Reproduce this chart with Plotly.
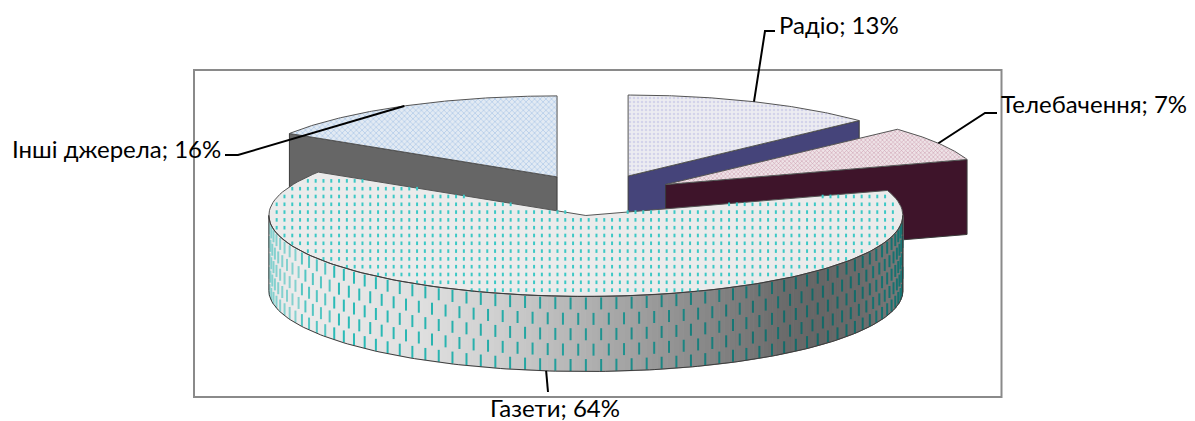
import numpy as np
import plotly.graph_objects as go

# Shares, clockwise from twelve o'clock
labels = ["Радіо", "Телебачення", "Газети", "Інші джерела"]
shares = [13, 7, 64, 16]

# Per-slice styling
top_bg = ["#ececf1", "#eee3e7", "#ebebeb", "#e2eaf3"]
top_fg = ["#d3d3ea", "#c896aa", "#3cc8c5", "#a9c6e8"]
top_shape = [".", "x", "", "x"]
top_size = [4, 3, 8, 4]
wall_color = ["#45447a", "#3e142a", "#808080", "#666666"]

# Pie projection in page pixels
CX, CY = 596.0, 195.0
RX, RY = 317.0, 81.0
DEPTH = 75.0
EXPLODE = 0.255

# Label text, anchor and leader elbow
label_x = [778, 1000, 555, 222]
label_y = [24, 103, 407, 148]
label_anchor = ["left", "left", "center", "right"]
elbow_x = [[765, 775], [985, 997], [548, 548], [238, 225]]
elbow_y = [[31, 31], [113, 113], [392, 392], [155, 155]]

FONT = "Lato"
FONT_SIZE = 24


def rim(cx, cy, deg):
    t = np.radians(deg)
    return cx + RX * np.sin(t), cy - RY * np.cos(t)


starts = np.cumsum([0] + shares[:-1]) * 3.6
ends = np.cumsum(shares) * 3.6
mids = (starts + ends) / 2
apex_x = CX + EXPLODE * RX * np.sin(np.radians(mids))
apex_y = CY - EXPLODE * RY * np.cos(np.radians(mids))

fig = go.Figure()


def polygon(x, y, color, line="#555555", width=1, pattern=None):
    fig.add_trace(go.Scatter(
        x=list(x), y=list(y), mode="lines", fill="toself", fillcolor=color,
        fillpattern=pattern, line=dict(color=line, width=width),
        hoverinfo="skip", showlegend=False))


def radial_wall(i, deg):
    ex, ey = rim(apex_x[i], apex_y[i], deg)
    polygon([apex_x[i], ex, ex, apex_x[i], apex_x[i]],
            [apex_y[i], ey, ey + DEPTH, apex_y[i] + DEPTH, apex_y[i]],
            wall_color[i], line="#3a3a3a")


def top_face(i):
    deg = np.linspace(starts[i], ends[i], 120)
    ax, ay = apex_x[i], apex_y[i]
    rx, ry = rim(ax, ay, deg)
    pattern = None
    if top_shape[i]:
        pattern = dict(shape=top_shape[i], bgcolor=top_bg[i], fgcolor=top_fg[i],
                       size=top_size[i], solidity=0.3, fillmode="replace")
    polygon(np.r_[ax, rx, ax], np.r_[ay, ry, ay], top_bg[i], pattern=pattern)


def grey_at(x):
    return np.interp(x, [270, 300, 420, 500, 590, 700, 780, 820, 860, 905],
                     [232, 236, 224, 207, 176, 138, 108, 102, 108, 124])


def side_wall(i):
    # Curved front face of the large slice, shaded in narrow strips
    ax, ay = apex_x[i], apex_y[i]
    edges = np.arange(90, 270 + 0.01, 1.0)
    for a, b in zip(edges[:-1], edges[1:]):
        sx, sy = rim(ax, ay, np.array([a, b]))
        v = int(grey_at(sx.mean()))
        col = f"rgb({v},{v},{v})"
        polygon([sx[0], sx[1], sx[1], sx[0], sx[0]],
                [sy[0], sy[1], sy[1] + DEPTH, sy[0] + DEPTH, sy[0]],
                col, line=col, width=1)

    # Long staggered dashes wrapped round the rim
    step = np.degrees(15.3 / RX)
    buckets = {}
    for row in range(5):
        offset = 0.5 * (row % 2)
        k0 = int(np.floor((90 - 180) / step)) - 1
        for k in range(k0, -k0 + 1):
            deg = 180 + (k + offset) * step
            if deg < 92 or deg > 268:
                continue
            x, y = rim(ax, ay, deg)
            y0 = y + 1 + 15.4 * row
            y1 = min(y0 + 12, y + DEPTH)
            if y0 >= y + DEPTH:
                continue
            key = int(x // 30)
            buckets.setdefault(key, ([], []))
            buckets[key][0].extend([x, x, None])
            buckets[key][1].extend([y0, y1, None])
    for key, (xs, ys) in buckets.items():
        mid = key * 30 + 15
        f = grey_at(mid) / 236
        # Teal darkens with the shading and fades toward the far left edge
        fade = np.interp(mid, [270, 340], [0.6, 0.0])
        r, g, b = 44 * f, 40 + 150 * f, 40 + 146 * f
        r, g, b = r + (232 - r) * fade, g + (232 - g) * fade, b + (232 - b) * fade
        col = f"rgb({int(r)},{int(g)},{int(b)})"
        fig.add_trace(go.Scatter(x=xs, y=ys, mode="lines",
                                 line=dict(color=col, width=2),
                                 hoverinfo="skip", showlegend=False))


def top_dashes(i):
    # Short dashes on a square grid across the large slice's upper face
    ax, ay = apex_x[i], apex_y[i]
    xs, ys = [], []
    for x in np.arange(ax - RX, ax + RX, 7.8):
        for y in np.arange(ay - RY - 10, ay + RY + 10, 7.8):
            dx, dy = (x - ax) / RX, (y + 2 - ay) / RY
            if dx * dx + dy * dy > 0.985:
                continue
            ang = np.degrees(np.arctan2(dx, -dy)) % 360
            if ang < starts[i] + 0.6 or ang > ends[i] - 0.6:
                continue
            xs.extend([x, x, None])
            ys.extend([y, y + 3.6, None])
    fig.add_trace(go.Scatter(x=xs, y=ys, mode="lines",
                             line=dict(color=top_fg[i], width=2),
                             hoverinfo="skip", showlegend=False))


# Back slices first, then the large slice in front of them
radial_wall(3, starts[3])
top_face(3)
radial_wall(0, ends[0])
top_face(0)
radial_wall(1, ends[1])
top_face(1)
side_wall(2)
top_face(2)
top_dashes(2)

# Outline of the curved front face, including its two vertical ends
deg_front = np.linspace(90, 270, 180)
fx, fy = rim(apex_x[2], apex_y[2], deg_front)
fig.add_trace(go.Scatter(x=np.r_[fx[0], fx, fx[-1], None, fx],
                         y=np.r_[fy[0], fy + DEPTH, fy[-1], None, fy],
                         mode="lines", line=dict(color="#3c3c3c", width=1),
                         hoverinfo="skip", showlegend=False))

# Leader lines from each slice's rim midpoint
for i in range(len(shares)):
    ax, ay = rim(apex_x[i], apex_y[i], mids[i])
    if 90 < mids[i] < 270:
        ay += DEPTH
    fig.add_trace(go.Scatter(x=[ax] + elbow_x[i], y=[ay] + elbow_y[i], mode="lines",
                             line=dict(color="#000000", width=2),
                             hoverinfo="skip", showlegend=False))

for i, name in enumerate(labels):
    fig.add_annotation(x=label_x[i], y=label_y[i], text=f"{name}; {shares[i]}%",
                       showarrow=False, xanchor=label_anchor[i], yanchor="middle",
                       borderpad=0, font=dict(family=FONT, size=FONT_SIZE, color="#000000"))

fig.update_layout(
    width=1195, height=421, margin=dict(l=0, r=0, t=0, b=0),
    paper_bgcolor="#ffffff", plot_bgcolor="#ffffff", showlegend=False,
    xaxis=dict(range=[0, 1195], visible=False, fixedrange=True),
    yaxis=dict(range=[421, 0], visible=False, fixedrange=True),
    shapes=[dict(type="rect", x0=194, y0=70, x1=1001.5, y1=397, layer="below",
                 line=dict(color="#8a8a8a", width=2))],
)

fig.write_html("out.html", config=dict(displayModeBar=False))
